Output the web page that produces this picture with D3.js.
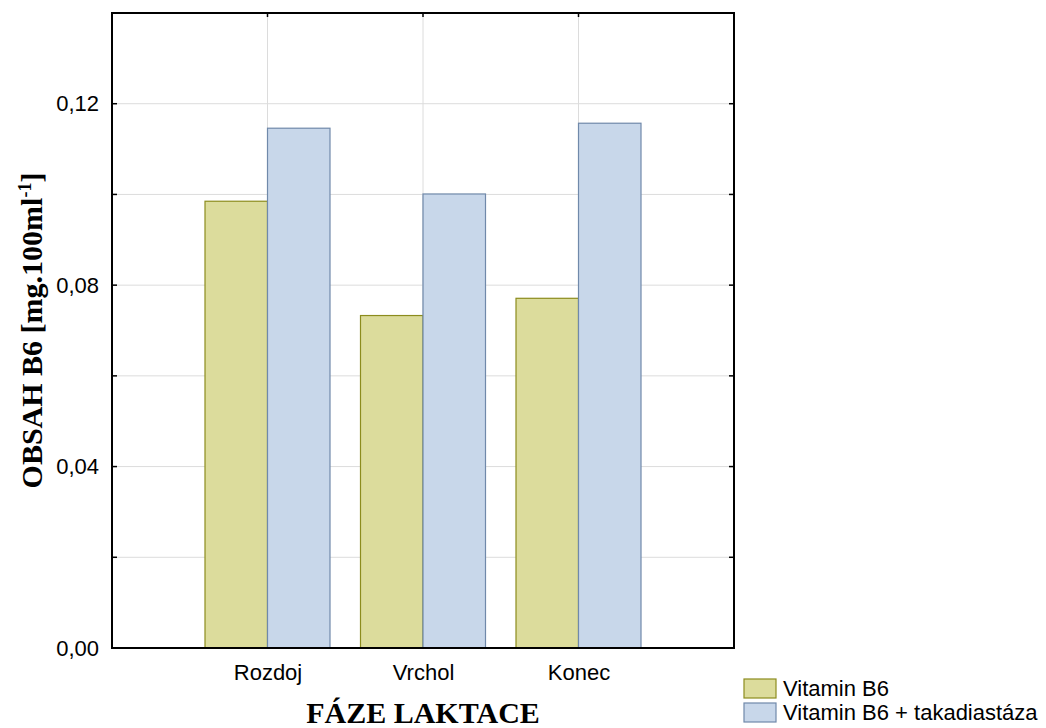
<!DOCTYPE html>
<html><head><meta charset="utf-8">
<script src="https://cdnjs.cloudflare.com/ajax/libs/d3/7.8.5/d3.min.js"></script>
<style>body{margin:0;background:#fff}svg{display:block}</style>
</head><body>
<svg id="c" width="1046" height="728"></svg>
<script>
const categories = ["Rozdoj", "Vrchol", "Konec"];
const seriesNames = ["Vitamin B6", "Vitamin B6 + takadiastáza"];
const vitaminB6 = [0.0985, 0.0733, 0.0771];
const vitaminB6Taka = [0.1146, 0.1001, 0.1157];
const yTickValues = [0, 0.04, 0.08, 0.12];
const yTickLabels = ["0,00", "0,04", "0,08", "0,12"];
const yGridValues = [0.02, 0.04, 0.06, 0.08, 0.10, 0.12];

const fills = ["#dcdc9c", "#c8d7ea"];
const strokes = ["#8c8c1e", "#7089aa"];

const svg = d3.select("#c");
const L = 112, R = 734, T = 13, B = 648;
const x = d3.scalePoint().domain(categories).range([L, R]).padding(1);
const groupW = 125;
const x1 = d3.scaleBand().domain(seriesNames).range([-groupW/2, groupW/2]);
const y = d3.scaleLinear().domain([0, 0.14]).range([B, T]);

// gridlines
svg.append("g").selectAll("line").data(yGridValues).join("line")
  .attr("x1", L).attr("x2", R).attr("y1", d => y(d)).attr("y2", d => y(d))
  .attr("stroke", "#dcdcdc").attr("stroke-width", 1);
svg.append("g").selectAll("line").data(categories).join("line")
  .attr("x1", d => x(d)).attr("x2", d => x(d)).attr("y1", T).attr("y2", B)
  .attr("stroke", "#dcdcdc").attr("stroke-width", 1);

// bars
const seriesData = [vitaminB6, vitaminB6Taka];
seriesData.forEach((vals, si) => {
  svg.append("g").selectAll("rect").data(vals).join("rect")
    .attr("x", (d, i) => x(categories[i]) + x1(seriesNames[si]))
    .attr("width", x1.bandwidth())
    .attr("y", d => y(d))
    .attr("height", d => B - y(d))
    .attr("fill", fills[si]).attr("stroke", strokes[si]).attr("stroke-width", 1.2);
});

// frame and axes
const yAxisL = d3.axisLeft(y).tickValues(yTickValues).tickFormat((d, i) => yTickLabels[i]).tickSize(0).tickPadding(13);
const gL = svg.append("g").attr("transform", `translate(${L},0)`).call(yAxisL);
gL.select(".domain").remove();
gL.selectAll("text").attr("font-family", "Liberation Sans, Arial, sans-serif").attr("font-size", 22).attr("fill", "#000");

const xAxisB = d3.axisBottom(x).tickSize(0).tickPadding(16);
const gB = svg.append("g").attr("transform", `translate(0,${B})`).call(xAxisB);
gB.select(".domain").remove();
gB.selectAll("text").attr("font-family", "Liberation Sans, Arial, sans-serif").attr("font-size", 22).attr("fill", "#000");

// inward ticks
const tickVals = [0.02, 0.04, 0.06, 0.08, 0.10, 0.12];
svg.append("g").selectAll("line").data(tickVals).join("line")
  .attr("x1", L).attr("x2", L + 5).attr("y1", d => y(d)).attr("y2", d => y(d)).attr("stroke", "#000").attr("stroke-width", 1.5);
svg.append("g").selectAll("line").data(tickVals).join("line")
  .attr("x1", R).attr("x2", R - 5).attr("y1", d => y(d)).attr("y2", d => y(d)).attr("stroke", "#000").attr("stroke-width", 1.5);
svg.append("g").selectAll("line").data(categories).join("line")
  .attr("x1", d => x(d)).attr("x2", d => x(d)).attr("y1", T).attr("y2", T + 4).attr("stroke", "#000").attr("stroke-width", 1.5);

svg.append("rect").attr("x", L).attr("y", T).attr("width", R - L).attr("height", B - T)
  .attr("fill", "none").attr("stroke", "#000").attr("stroke-width", 2);

// titles
svg.append("text").attr("x", (L + R) / 2).attr("y", 723).attr("text-anchor", "middle")
  .attr("font-family", "Liberation Serif, Times New Roman, serif").attr("font-weight", "bold").attr("font-size", 30)
  .text("FÁZE LAKTACE");
const yt = svg.append("text").attr("transform", `translate(42,${(T + B) / 2}) rotate(-90)`).attr("text-anchor", "middle")
  .attr("font-family", "Liberation Serif, Times New Roman, serif").attr("font-weight", "bold").attr("font-size", 30);
yt.append("tspan").text("OBSAH B6 [mg.100ml");
yt.append("tspan").attr("font-size", 18).attr("dy", -11).text("-1");
yt.append("tspan").attr("dy", 11).text("]");

// legend
const lg = svg.append("g");
seriesNames.forEach((n, i) => {
  const yy = 679 + i * 24;
  lg.append("rect").attr("x", 744).attr("y", yy).attr("width", 32).attr("height", 19)
    .attr("fill", fills[i]).attr("stroke", strokes[i]).attr("stroke-width", 1.2);
  lg.append("text").attr("x", 783).attr("y", yy + 17).attr("font-family", "Liberation Sans, Arial, sans-serif")
    .attr("font-size", 22).text(n);
});
</script>
</body></html>
